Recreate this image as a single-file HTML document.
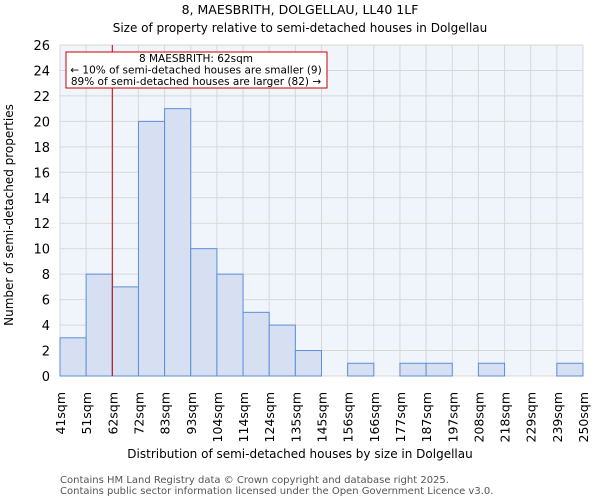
<!DOCTYPE html>
<html><head><meta charset="utf-8"><style>
body{margin:0;background:#fff;}
svg{display:block;font-family:"DejaVu Sans","Liberation Sans",sans-serif;}
</style></head><body>
<svg id="chart" width="600" height="500" viewBox="0 0 600 500">
<text x="300" y="14" text-anchor="middle" font-size="12.5">8, MAESBRITH, DOLGELLAU, LL40 1LF</text>
<text x="300" y="32" text-anchor="middle" font-size="12">Size of property relative to semi-detached houses in Dolgellau</text>
<rect x="60" y="45" width="523" height="331" fill="#f0f4fb"/>
<g id="grid"></g><g id="bars"></g><g id="yticks"></g><g id="xticks"></g>
<line x1="112.3" y1="45" x2="112.3" y2="376" stroke="#cc0000" stroke-width="1"/>
<rect x="66" y="52" width="261" height="36" fill="#fff" stroke="#cc0000" stroke-width="1"/>
<text x="196" y="62" text-anchor="middle" font-size="10.5">8 MAESBRITH: 62sqm</text>
<text x="196" y="73.5" text-anchor="middle" font-size="10.5">← 10% of semi-detached houses are smaller (9)</text>
<text x="196" y="85" text-anchor="middle" font-size="10.5">89% of semi-detached houses are larger (82) →</text>
<text x="300" y="458" text-anchor="middle" font-size="12">Distribution of semi-detached houses by size in Dolgellau</text>
<text transform="translate(13,215) rotate(-90)" text-anchor="middle" font-size="12">Number of semi-detached properties</text>
<text x="60" y="483" font-size="10" fill="#555">Contains HM Land Registry data © Crown copyright and database right 2025.</text>
<text x="60" y="494" font-size="10" fill="#555">Contains public sector information licensed under the Open Government Licence v3.0.</text>
</svg>
<script>
const binLabels=["41sqm","51sqm","62sqm","72sqm","83sqm","93sqm","104sqm","114sqm","124sqm","135sqm","145sqm","156sqm","166sqm","177sqm","187sqm","197sqm","208sqm","218sqm","229sqm","239sqm","250sqm"];
const counts=[3,8,7,20,21,10,8,5,4,2,0,1,0,1,1,0,1,0,0,1];
const yTicks=[0,2,4,6,8,10,12,14,16,18,20,22,24,26];
const NS="http://www.w3.org/2000/svg";
const x0=60,x1=583,yb=376,yt=45,yMax=26;
const bw=(x1-x0)/counts.length;
const xs=i=>x0+i*bw;
const ys=v=>yb-(v/yMax)*(yb-yt);
function mk(tag,attrs,parent){const e=document.createElementNS(NS,tag);for(const k in attrs)e.setAttribute(k,attrs[k]);document.getElementById(parent).appendChild(e);return e;}
yTicks.forEach(v=>{
 const l=mk("line",{x1:x0,x2:x1,y1:ys(v),y2:ys(v),stroke:"#d8d8d8"},"grid");
 
 
 const t=mk("text",{x:50,y:ys(v)+5,"text-anchor":"end","font-size":"13"},"yticks");
 t.textContent=v;
 
 
});
binLabels.forEach((s,i)=>{
 const l=mk("line",{x1:xs(i),x2:xs(i),y1:yt,y2:yb,stroke:"#d8d8d8"},"grid");
 
 
 const t=mk("text",{transform:`translate(${xs(i)+5},${392}) rotate(-90)`,"text-anchor":"end","font-size":"12.5"},"xticks");
 t.textContent=s;
 
 
});
counts.forEach((c,i)=>{
 if(c<=0)return;
 const r=mk("rect",{x:xs(i),y:ys(c),width:bw,height:yb-ys(c),fill:"#d6e0f2",stroke:"#5b8fd8","stroke-width":"1"},"bars");
 
 
});
</script>
</body></html>
